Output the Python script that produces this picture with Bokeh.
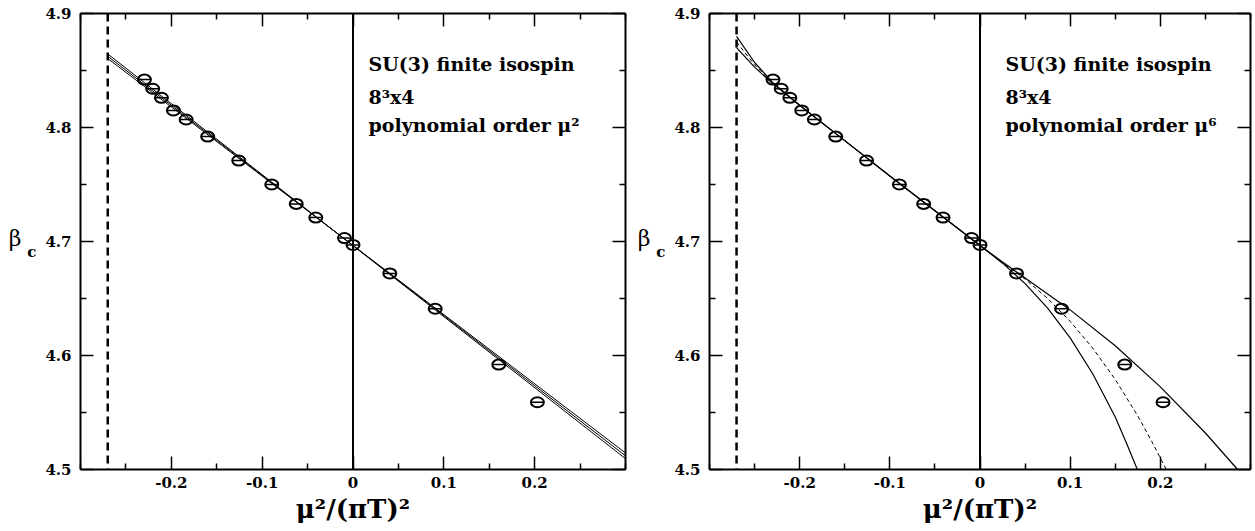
from bokeh.plotting import figure
from bokeh.layouts import row
from bokeh.models import Span, Label, LinearAxis, FixedTicker, Range1d, CustomLabelingPolicy
from bokeh.embed import file_html
from bokeh.resources import INLINE

# ---------------- data ----------------
mu2 = [-0.2296, -0.2205, -0.2109, -0.1977, -0.1837, -0.1600, -0.1258, -0.0894,
       -0.0625, -0.0410, -0.0094, 0.0, 0.0405, 0.0905, 0.1605, 0.2030]
beta_c = [4.842, 4.834, 4.826, 4.815, 4.807, 4.792, 4.771, 4.750,
          4.733, 4.721, 4.703, 4.697, 4.672, 4.641, 4.592, 4.559]

mu2_boundary = -0.27

# left panel: polynomial order mu^2 fits (straight lines)
fit2_x = [-0.27, 0.30]
fit2_hi = [4.8645, 4.5095]
fit2_mid = [4.8625, 4.5120]
fit2_lo = [4.8605, 4.5145]

# right panel: polynomial order mu^6 fits
fit6a_x = [-0.27, -0.25, -0.23, -0.20, -0.15, -0.10, -0.05, 0.0, 0.025, 0.05, 0.075,
           0.10, 0.125, 0.15, 0.1625, 0.1745]
fit6a_y = [4.880, 4.857, 4.8395, 4.8195, 4.7885, 4.7575, 4.727, 4.6965, 4.681, 4.663,
           4.6415, 4.6155, 4.584, 4.546, 4.523, 4.500]
fit6d_x = [-0.27, -0.25, -0.23, -0.20, -0.15, -0.10, -0.05, 0.0, 0.025, 0.05, 0.075,
           0.10, 0.125, 0.15, 0.175, 0.19, 0.2066]
fit6d_y = [4.875, 4.855, 4.839, 4.8195, 4.7885, 4.7575, 4.727, 4.6965, 4.6815, 4.667,
           4.650, 4.630, 4.6065, 4.579, 4.547, 4.5254, 4.500]
fit6b_x = [-0.27, -0.25, -0.23, -0.20, -0.15, -0.10, -0.05, 0.0, 0.025, 0.05, 0.075,
           0.10, 0.15, 0.20, 0.25, 0.2857]
fit6b_y = [4.870, 4.853, 4.8385, 4.8195, 4.7885, 4.7575, 4.727, 4.6965, 4.682, 4.668,
           4.654, 4.640, 4.6085, 4.5725, 4.532, 4.500]

x_ticks = [-0.2, -0.1, 0.0, 0.1, 0.2]
x_tick_labels = ["-0.2", "-0.1", "0", "0.1", "0.2"]
x_minor = [-0.3, -0.25, -0.15, -0.05, 0.05, 0.15, 0.25, 0.3]
y_ticks = [4.5, 4.6, 4.7, 4.8, 4.9]
y_tick_labels = ["4.5", "4.6", "4.7", "4.8", "4.9"]
y_minor = [4.55, 4.65, 4.75, 4.85]

annot_common = ["SU(3) finite isospin", "8\u00b3x4"]
annot_left = annot_common + ["polynomial order \u03bc\u00b2"]
annot_right = annot_common + ["polynomial order \u03bc\u2076"]
x_title = "\u03bc\u00b2/(\u03c0T)\u00b2"
y_title_main = "\u03b2"
y_title_sub = "c"
y_title_pos = 4.7026
y_title_sub_pos = 4.6904

FONT = "DejaVu Serif"


def style_axis(ax, show_labels, xaxis):
    ax.axis_line_width = 2
    ax.major_tick_line_width = 1.5
    ax.minor_tick_line_width = 1.5
    ax.major_tick_in = 13
    ax.major_tick_out = 0
    ax.minor_tick_in = 6
    ax.minor_tick_out = 0
    ax.major_label_text_font = FONT
    ax.major_label_text_font_style = "bold"
    ax.major_label_text_color = "black"
    if show_labels:
        ax.major_label_text_font_size = "15px"
        if xaxis:
            ax.major_label_overrides = dict(zip(x_ticks, x_tick_labels))
            ax.major_label_standoff = 7
        else:
            ax.major_label_overrides = dict(zip(y_ticks, y_tick_labels))
            ax.major_label_standoff = 9
    else:
        ax.major_label_text_font_size = "1px"
        ax.major_label_standoff = 0
        ax.major_label_policy = CustomLabelingPolicy(
            code="for (const i of indices) { if (i < 0) yield i }")


def title_axis(pos, text, size, style, standoff):
    ax = LinearAxis(ticker=FixedTicker(ticks=[pos], minor_ticks=[]))
    ax.axis_line_color = None
    ax.major_tick_line_color = None
    ax.minor_tick_line_color = None
    ax.major_tick_in = 0
    ax.major_tick_out = 0
    ax.major_label_overrides = {pos: text}
    ax.major_label_text_font = FONT
    ax.major_label_text_font_style = style
    ax.major_label_text_font_size = size
    ax.major_label_text_color = "black"
    ax.major_label_standoff = standoff
    return ax


def make_panel(min_left, frame_w, min_right, annot, text_x):
    p = figure(frame_width=frame_w, frame_height=456,
               x_range=Range1d(-0.3, 0.3), y_range=Range1d(4.5, 4.9),
               output_backend="svg", toolbar_location=None,
               min_border_left=min_left, min_border_right=min_right,
               min_border_top=13, min_border_bottom=62)
    p.xgrid.visible = False
    p.ygrid.visible = False
    p.outline_line_color = None
    p.background_fill_color = "white"
    p.border_fill_color = "white"

    bottom = p.below[0]
    left = p.left[0]
    bottom.ticker = FixedTicker(ticks=x_ticks, minor_ticks=x_minor)
    left.ticker = FixedTicker(ticks=y_ticks, minor_ticks=y_minor)
    style_axis(bottom, True, True)
    style_axis(left, True, False)

    bottom.axis_label = x_title
    bottom.axis_label_text_font = FONT
    bottom.axis_label_text_font_style = "bold"
    bottom.axis_label_text_font_size = "26px"
    bottom.axis_label_text_color = "black"
    bottom.axis_label_standoff = 3

    # beta_c title built from two label-only axes (subscript next to the numbers)
    p.add_layout(title_axis(y_title_sub_pos, y_title_sub, "15px", "bold", 6), "left")
    p.add_layout(title_axis(y_title_pos, y_title_main, "22px", "normal", 3), "left")

    top = LinearAxis(ticker=FixedTicker(ticks=x_ticks, minor_ticks=x_minor))
    right = LinearAxis(ticker=FixedTicker(ticks=y_ticks, minor_ticks=y_minor))
    style_axis(top, False, True)
    style_axis(right, False, False)
    p.add_layout(top, "above")
    p.add_layout(right, "right")

    p.add_layout(Span(location=mu2_boundary, dimension="height", line_color="black",
                      line_width=2.5, line_dash="8 5"))
    p.add_layout(Span(location=0.0, dimension="height", line_color="black",
                      line_width=2))

    for txt, yy in zip(annot, [406, 373, 345]):
        p.add_layout(Label(x=text_x, y=yy, x_units="screen", y_units="screen", text=txt,
                           text_font=FONT, text_font_style="bold", text_font_size="19px",
                           text_baseline="alphabetic", text_align="left",
                           text_color="black"))
    return p


def draw_points(p):
    p.ellipse(x=mu2, y=beta_c, width=13, height=10, width_units="screen",
              height_units="screen", fill_color=None, line_color="black", line_width=2)
    p.scatter(x=mu2, y=beta_c, marker="dash", size=13, line_color="black",
              line_width=1.5)


p1 = make_panel(80, 545, 0, annot_left, 288)
for ys in (fit2_hi, fit2_mid, fit2_lo):
    p1.line(fit2_x, ys, line_color="black", line_width=1)
draw_points(p1)

p2 = make_panel(79, 541, 0, annot_right, 296)
p2.line(fit6a_x, fit6a_y, line_color="black", line_width=1.2)
p2.line(fit6b_x, fit6b_y, line_color="black", line_width=1.2)
p2.line(fit6d_x, fit6d_y, line_color="black", line_width=1, line_dash="4 3")
draw_points(p2)

layout = row(p1, p2)
open("out.html", "w").write(file_html(layout, INLINE))
